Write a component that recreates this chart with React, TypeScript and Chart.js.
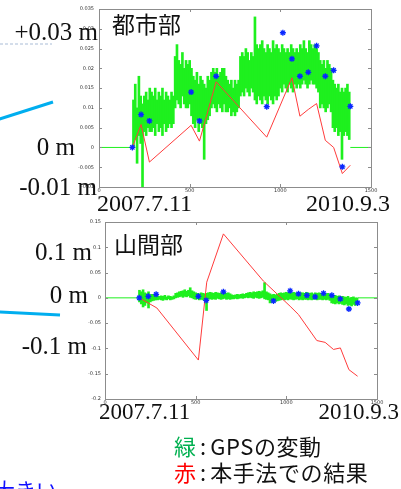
import { useEffect, useRef } from "react";
import { Chart, registerables } from "chart.js";

Chart.register(...registerables);

// ---------- shared axis data ----------
const xTickValues = [0, 500, 1000, 1500];
const xTickLabels = ["0", "500", "1000", "1500"];

// GPS daily spread is shown as 10-day bins (low/high of the daily solutions)
const gpsStartDay = 190;
const gpsStepDays = 10;

// ---------- urban (都市部) ----------
const urbanYTicks = [-0.01, -0.005, 0, 0.005, 0.01, 0.015, 0.02, 0.025, 0.03, 0.035];
const urbanYLabels = ["-0.01", "-0.005", "0", "0.005", "0.01", "0.015", "0.02", "0.025", "0.03", "0.035"];

const urbanGpsFlatBefore = [0, 184];
const urbanGpsFlatAfter = [1386, 1500];
const urbanGpsHigh = [
  0.012, 0.016, 0.010, 0.018, 0.013, 0.011, 0.013, 0.014, 0.012, 0.015,
  0.014, 0.013, 0.015, 0.012, 0.014, 0.013, 0.015, 0.012, 0.014, 0.013,
  0.012, 0.014, 0.013, 0.023, 0.026, 0.022, 0.021, 0.024, 0.020, 0.022,
  0.021, 0.022, 0.020, 0.018, 0.017, 0.019, 0.016, 0.018, 0.017, 0.016,
  0.015, 0.018, 0.017, 0.019, 0.020, 0.019, 0.020, 0.018, 0.019, 0.020,
  0.020, 0.018, 0.017, 0.016, 0.017, 0.015, 0.017, 0.016, 0.017, 0.023,
  0.024, 0.023, 0.025, 0.024, 0.022, 0.024, 0.023, 0.033, 0.026, 0.025,
  0.026, 0.027, 0.025, 0.024, 0.026, 0.025, 0.024, 0.027, 0.025, 0.026,
  0.025, 0.024, 0.026, 0.025, 0.024, 0.025, 0.024, 0.026, 0.025, 0.024,
  0.025, 0.024, 0.026, 0.025, 0.027, 0.025, 0.024, 0.027, 0.026, 0.025,
  0.026, 0.025, 0.024, 0.022, 0.021, 0.022, 0.020, 0.022, 0.021, 0.020,
  0.017, 0.016, 0.015, 0.016, 0.014, 0.015, 0.014, 0.015, 0.016, 0.014,
];
const urbanGpsLow = [
  0.000, 0.002, -0.004, 0.003, 0.001, -0.010, 0.004, 0.003, 0.005, 0.004,
  0.004, 0.005, 0.003, 0.006, 0.004, 0.005, 0.003, 0.006, 0.004, 0.005,
  0.006, 0.005, 0.006, 0.010, 0.012, 0.011, 0.010, 0.013, 0.011, 0.010,
  0.010, 0.011, 0.008, 0.006, 0.005, 0.007, 0.004, 0.006, 0.005, -0.003,
  0.006, 0.007, 0.008, 0.010, 0.011, 0.010, 0.009, 0.011, 0.010, 0.009,
  0.011, 0.009, 0.009, 0.010, 0.008, 0.009, 0.008, 0.009, 0.010, 0.013,
  0.014, 0.013, 0.015, 0.014, 0.013, 0.015, 0.014, 0.012, 0.011, 0.013,
  0.012, 0.011, 0.013, 0.012, 0.011, 0.013, 0.012, 0.011, 0.013, 0.012,
  0.013, 0.015, 0.014, 0.016, 0.015, 0.014, 0.016, 0.015, 0.014, 0.016,
  0.015, 0.016, 0.015, 0.016, 0.017, 0.016, 0.015, 0.016, 0.017, 0.016,
  0.016, 0.015, 0.014, 0.010, 0.011, 0.010, 0.009, 0.010, 0.011, 0.009,
  0.005, 0.004, 0.005, 0.003, 0.004, -0.003, 0.003, 0.004, 0.003, 0.002,
];

const urbanResultDays = [184, 232, 278, 508, 554, 646, 925, 1064, 1108, 1154, 1200, 1248, 1294, 1342, 1386];
const urbanResultValues = [0, 0.0058, -0.0037, 0.0056, 0.0016, 0.0166, 0.0026, 0.0176, 0.0079, 0.0096, 0.0111, 0.0018, 0.0, -0.0066, -0.0045];

const urbanPointDays = [184, 232, 278, 508, 554, 646, 925, 1014, 1064, 1108, 1154, 1200, 1248, 1294, 1342, 1386];
const urbanPointValues = [0, 0.0083, 0.0067, 0.014, 0.0067, 0.018, 0.0103, 0.029, 0.0224, 0.018, 0.019, 0.0257, 0.018, 0.0195, -0.0049, 0.0104];

// ---------- mountain (山間部) ----------
const mountainYTicks = [-0.2, -0.15, -0.1, -0.05, 0, 0.05, 0.1, 0.15];
const mountainYLabels = ["-0.2", "-0.15", "-0.1", "-0.05", "0", "0.05", "0.1", "0.15"];

const mountainGpsFlatBefore = [0, 189];
const mountainGpsFlatAfter = [1395, 1500];
const mountainGpsHigh = [
  0.015, 0.012, 0.016, 0.010, 0.008, 0.012, 0.006, 0.007, 0.005, 0.004,
  0.004, 0.003, 0.004, 0.003, 0.005, 0.002, 0.004, 0.003, 0.002, 0.004,
  0.009, 0.010, 0.012, 0.013, 0.014, 0.016, 0.013, 0.015, 0.020, 0.014,
  0.012, 0.010, 0.009, 0.008, 0.010, 0.009, 0.008, 0.009, 0.010, 0.011,
  0.010, 0.009, 0.011, 0.010, 0.009, 0.010, 0.008, 0.011, 0.009, 0.010,
  0.008, 0.006, 0.005, 0.006, 0.007, 0.006, 0.007, 0.008, 0.007, 0.009,
  0.010, 0.011, 0.010, 0.012, 0.011, 0.012, 0.013, 0.012, 0.014, 0.030,
  0.012, 0.010, 0.008, 0.006, 0.007, 0.006, 0.007, 0.009, 0.010, 0.009,
  0.010, 0.011, 0.010, 0.011, 0.009, 0.011, 0.010, 0.009, 0.011, 0.010,
  0.010, 0.009, 0.011, 0.010, 0.009, 0.010, 0.008, 0.010, 0.009, 0.010,
  0.009, 0.008, 0.009, 0.008, 0.009, 0.007, 0.004, 0.003, 0.005, 0.003,
  0.004, 0.002, 0.003, 0.002, 0.001, 0.003, 0.000, 0.001, 0.002, 0.000,
  0.000,
];
const mountainGpsLow = [
  -0.008, -0.012, -0.018, -0.015, -0.010, -0.020, -0.008, -0.006, -0.005, -0.004,
  -0.004, -0.003, -0.004, -0.005, -0.003, -0.004, -0.002, -0.004, -0.003, -0.002,
  0.000, 0.001, 0.002, 0.003, 0.001, 0.003, 0.002, 0.004, 0.001, 0.000,
  -0.002, -0.003, -0.002, -0.004, -0.003, -0.004, -0.005, -0.025, -0.003, -0.002,
  -0.003, -0.002, -0.003, -0.001, -0.002, -0.003, -0.002, -0.001, -0.003, -0.002,
  -0.003, -0.002, -0.002, -0.001, -0.002, -0.001, 0.000, -0.001, 0.000, 0.001,
  0.000, 0.001, 0.000, -0.001, 0.001, 0.000, -0.001, 0.000, 0.001, -0.002,
  -0.003, -0.004, -0.010, -0.008, -0.009, -0.007, -0.006, -0.005, -0.004, -0.003,
  -0.004, -0.003, -0.004, -0.002, -0.003, -0.004, -0.003, -0.002, -0.004, -0.003,
  -0.004, -0.003, -0.003, -0.004, -0.003, -0.004, -0.003, -0.002, -0.004, -0.003,
  -0.003, -0.004, -0.003, -0.004, -0.003, -0.005, -0.010, -0.011, -0.012, -0.010,
  -0.012, -0.011, -0.013, -0.014, -0.012, -0.015, -0.014, -0.016, -0.013, -0.015,
  -0.012,
];

const mountainResultDays = [189, 286, 515, 561, 653, 874, 1021, 1067, 1168, 1214, 1260, 1298, 1345, 1393];
const mountainResultValues = [0, -0.02, -0.123, 0.031, 0.1265, 0.033, -0.0166, -0.033, -0.0844, -0.088, -0.102, -0.099, -0.142, -0.155];

const mountainPointDays = [189, 239, 282, 515, 558, 653, 929, 1021, 1067, 1113, 1159, 1205, 1251, 1298, 1345, 1393];
const mountainPointValues = [0, 0.003, 0.007, 0.003, -0.005, 0.012, -0.006, 0.014, 0.008, 0.005, 0.002, 0.009, 0.005, -0.002, -0.022, -0.01];

type Pt = { x: number; y: number | null };

function flatLine(before: number[], after: number[]): Pt[] {
  return [
    ...before.map((d) => ({ x: d, y: 0 })),
    { x: (before[before.length - 1] + after[0]) / 2, y: null },
    ...after.map((d) => ({ x: d, y: 0 })),
  ];
}

function spreadBars(low: number[], high: number[]) {
  return low.map((lo, i) => ({ x: gpsStartDay + i * gpsStepDays, y: [lo, high[i]] }));
}

function zip(days: number[], values: number[]): Pt[] {
  return days.map((d, i) => ({ x: d, y: values[i] }));
}

function labelFor(ticks: number[], labels: string[], v: number) {
  const i = ticks.findIndex((t) => Math.abs(t - v) < 1e-9);
  return i >= 0 ? labels[i] : "";
}

const framePlugin = {
  id: "matlabFrame",
  afterDraw(chart: any) {
    const { ctx, chartArea } = chart;
    const { left, top, right, bottom } = chartArea;
    const xs = chart.scales.x;
    const ys = chart.scales.y;
    ctx.save();
    ctx.strokeStyle = "#8c8c8c";
    ctx.lineWidth = 1;
    ctx.strokeRect(Math.round(left) + 0.5, Math.round(top) + 0.5, Math.round(right - left), Math.round(bottom - top));
    ctx.beginPath();
    const tl = 3;
    ys.ticks.forEach((t: any) => {
      const py = Math.round(ys.getPixelForValue(t.value)) + 0.5;
      ctx.moveTo(left, py);
      ctx.lineTo(left + tl, py);
      ctx.moveTo(right - tl, py);
      ctx.lineTo(right, py);
    });
    xs.ticks.forEach((t: any) => {
      const px = Math.round(xs.getPixelForValue(t.value)) + 0.5;
      ctx.moveTo(px, top);
      ctx.lineTo(px, top + tl);
      ctx.moveTo(px, bottom - tl);
      ctx.lineTo(px, bottom);
    });
    ctx.stroke();
    ctx.restore();
  },
};

type PlotProps = {
  left: number;
  top: number;
  width: number;
  height: number;
  area: { left: number; top: number; right: number; bottom: number };
  yMin: number;
  yMax: number;
  yTicks: number[];
  yLabels: string[];
  yPad: number;
  flat: Pt[];
  spread: { x: number; y: number[] }[];
  red: Pt[];
  blue: Pt[];
};

const GPS_GREEN = "rgb(30,240,30)";

function Plot(p: PlotProps) {
  const ref = useRef<HTMLCanvasElement | null>(null);
  useEffect(() => {
    if (!ref.current) return;
    const chart = new Chart(ref.current, {
      type: "scatter",
      data: {
        datasets: [
          {
            data: p.blue,
            showLine: false,
            pointStyle: "star",
            pointRadius: 3,
            borderColor: "#0a28ff",
            backgroundColor: "#0a28ff",
            borderWidth: 1.3,
          },
          {
            data: p.red,
            showLine: true,
            pointRadius: 0,
            borderColor: "#ff3b3b",
            borderWidth: 1,
            tension: 0,
          },
          {
            data: p.flat,
            showLine: true,
            spanGaps: false,
            pointRadius: 0,
            borderColor: GPS_GREEN,
            borderWidth: 1,
            tension: 0,
          },
          {
            type: "bar",
            data: p.spread,
            backgroundColor: GPS_GREEN,
            borderWidth: 0,
            barThickness: 2,
          },
        ],
      },
      options: {
        animation: false,
        responsive: false,
        maintainAspectRatio: false,
        events: [],
        layout: { padding: { top: p.area.top, right: p.width - p.area.right, left: 0, bottom: 0 } },
        plugins: { legend: { display: false }, tooltip: { enabled: false } },
        scales: {
          x: {
            type: "linear",
            min: 0,
            max: 1500,
            offset: false,
            afterBuildTicks: (s: any) => {
              s.ticks = xTickValues.map((v) => ({ value: v }));
            },
            afterFit: (s: any) => {
              s.height = p.height - p.area.bottom;
            },
            grid: { display: false, drawTicks: false },
            border: { display: false },
            ticks: {
              autoSkip: false,
              maxRotation: 0,
              padding: 1,
              color: "#333",
              font: { size: 5, family: "DejaVu Sans" },
              callback: (v: any) => labelFor(xTickValues, xTickLabels, Number(v)),
            },
          },
          y: {
            type: "linear",
            min: p.yMin,
            max: p.yMax,
            afterBuildTicks: (s: any) => {
              s.ticks = p.yTicks.map((v) => ({ value: v }));
            },
            afterFit: (s: any) => {
              s.width = p.area.left;
            },
            grid: { display: false, drawTicks: false },
            border: { display: false },
            ticks: {
              autoSkip: false,
              padding: p.yPad,
              color: "#333",
              font: { size: 5, family: "DejaVu Sans" },
              callback: (v: any) => labelFor(p.yTicks, p.yLabels, Number(v)),
            },
          },
        },
      },
      plugins: [framePlugin],
    } as any);
    return () => chart.destroy();
  }, []);
  return (
    <canvas
      ref={ref}
      width={p.width}
      height={p.height}
      style={{ position: "absolute", left: p.left, top: p.top, width: p.width, height: p.height, display: "block" }}
    />
  );
}

const serif = "'Liberation Serif', 'DejaVu Serif', serif";
const cjk = "'Noto Sans CJK JP', 'Noto Sans', sans-serif";

export default function App() {
  return (
    <div
      style={{
        position: "absolute",
        left: 0,
        top: 0,
        width: 401,
        height: 489,
        overflow: "hidden",
        background: "#fff",
      }}
    >
      <Plot
        left={70}
        top={0}
        width={310}
        height={210}
        area={{ left: 29, top: 9, right: 301, bottom: 187 }}
        yMin={-0.01}
        yMax={0.035}
        yTicks={urbanYTicks}
        yLabels={urbanYLabels}
        yPad={5}
        flat={flatLine(urbanGpsFlatBefore, urbanGpsFlatAfter)}
        spread={spreadBars(urbanGpsLow, urbanGpsHigh)}
        red={zip(urbanResultDays, urbanResultValues)}
        blue={zip(urbanPointDays, urbanPointValues)}
      />
      <Plot
        left={70}
        top={210}
        width={320}
        height={210}
        area={{ left: 35, top: 12, right: 307, bottom: 189 }}
        yMin={-0.2}
        yMax={0.15}
        yTicks={mountainYTicks}
        yLabels={mountainYLabels}
        yPad={4}
        flat={flatLine(mountainGpsFlatBefore, mountainGpsFlatAfter)}
        spread={spreadBars(mountainGpsLow, mountainGpsHigh)}
        red={zip(mountainResultDays, mountainResultValues)}
        blue={zip(mountainPointDays, mountainPointValues)}
      />
      <svg
        width={401}
        height={489}
        style={{ position: "absolute", left: 0, top: 0, pointerEvents: "none" }}
      >
        <line x1={0} y1={44} x2={52} y2={44} stroke="#a9bcd6" strokeWidth={1} strokeDasharray="3 2" />
        <line x1={-2} y1={119.5} x2={53} y2={102} stroke="#00aeef" strokeWidth={3} />
        <line x1={-2} y1={312} x2={60} y2={315} stroke="#00aeef" strokeWidth={3} />

        <g fontFamily={serif} fontSize={25} fill="#111">
          <text x={98} y={40} textAnchor="end">+0.03 m</text>
          <text x={75} y={155} textAnchor="end">0 m</text>
          <text x={97} y={195} textAnchor="end">-0.01 m</text>
          <text x={92} y={260} textAnchor="end">0.1 m</text>
          <text x={88} y={303} textAnchor="end">0 m</text>
          <text x={87} y={354} textAnchor="end">-0.1 m</text>
        </g>
        <g fontFamily={serif} fontSize={24} fill="#111">
          <text x={97} y={211}>2007.7.11</text>
          <text x={390} y={211} textAnchor="end">2010.9.3</text>
          <text x={99} y={419} fontSize={23}>2007.7.11</text>
          <text x={399} y={419} fontSize={23} textAnchor="end">2010.9.3</text>
        </g>
        <g fontFamily={cjk} fontSize={23} fill="#111">
          <text x={112} y={33}>都市部</text>
          <text x={114} y={253}>山間部</text>
        </g>
        <g fontFamily={cjk} fontSize={22} fill="#111">
          <text x={174} y={455}>
            <tspan fill="#00b050">緑</tspan>
            <tspan dx={4}>:</tspan>
            <tspan dx={4} letterSpacing={0.6}>GPSの変動</tspan>
          </text>
          <text x={174} y={481}>
            <tspan fill="#ff0000">赤</tspan>
            <tspan dx={4}>:</tspan>
            <tspan dx={4} letterSpacing={0.6}>本手法での結果</tspan>
          </text>
        </g>
        <text x={57} y={498} textAnchor="end" fontFamily={cjk} fontSize={21} fill="#1010ff">大きい</text>
      </svg>
    </div>
  );
}
